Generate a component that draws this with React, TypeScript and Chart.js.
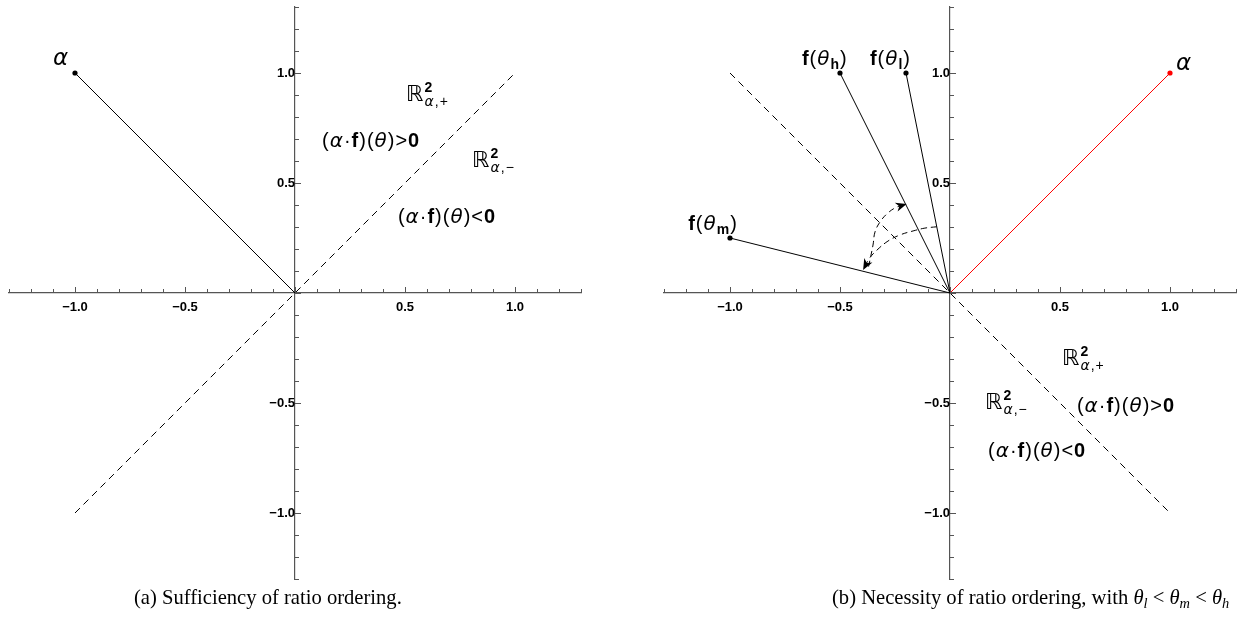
import React, { useEffect, useRef } from 'react';
import { Chart, registerables } from 'chart.js';
Chart.register(...registerables);

// ---------- axis settings ----------
const AXIS_MIN = -1.3;
const AXIS_MAX = 1.3;
const TICK_STEP = 0.1;
const LABEL_STEP = 0.5;

// ---------- panel (a) data ----------
const leftDivider = [{ x: -1, y: -1 }, { x: 1, y: 1 }];
const leftAlpha = [{ x: 0, y: 0 }, { x: -1, y: 1 }];

// ---------- panel (b) data ----------
const rightDivider = [{ x: -1, y: 1 }, { x: 1, y: -1 }];
const rightAlpha = [{ x: 0, y: 0 }, { x: 1, y: 1 }];
const fThetaH = [{ x: 0, y: 0 }, { x: -0.5, y: 1 }];
const fThetaL = [{ x: 0, y: 0 }, { x: -0.2, y: 1 }];
const fThetaM = [{ x: 0, y: 0 }, { x: -1, y: 0.25 }];
const arcLtoM = [
  { x: -0.06, y: 0.301 },
  { x: -0.114, y: 0.295 },
  { x: -0.168, y: 0.282 },
  { x: -0.227, y: 0.264 },
  { x: -0.282, y: 0.236 },
  { x: -0.332, y: 0.195 },
  { x: -0.368, y: 0.155 },
  { x: -0.395, y: 0.105 },
];
const arcMtoH = [
  { x: -0.37, y: 0.12 },
  { x: -0.35, y: 0.218 },
  { x: -0.341, y: 0.277 },
  { x: -0.318, y: 0.323 },
  { x: -0.282, y: 0.364 },
  { x: -0.241, y: 0.391 },
  { x: -0.197, y: 0.405 },
];

// ---------- text annotations ----------
type Seg = { t: string; f: string; dy?: number; back?: boolean };
type Note = { x: number; y: number; parts: Seg[] };

const FONTS: Record<string, string> = {
  r: '20px "Liberation Sans"',
  b: 'bold 20px "Liberation Sans"',
  i: 'italic 20px "DejaVu Sans"',
  R: '22px "DejaVu Sans"',
  s2: 'bold 14px "Liberation Sans"',
  si: 'italic 14px "DejaVu Sans"',
  sr: '14px "Liberation Sans"',
  sb: 'bold 14px "Liberation Sans"',
  A: 'italic 23px "DejaVu Sans"',
};
const GAP = 1.0;

const ineq = (sign: string): Seg[] => [
  { t: '(', f: 'r' }, { t: 'α', f: 'i' }, { t: '·', f: 'r' }, { t: 'f', f: 'b' }, { t: ')', f: 'r' },
  { t: '(', f: 'r' }, { t: 'θ', f: 'i' }, { t: ')', f: 'r' }, { t: sign, f: 'r' }, { t: '0', f: 'b' },
];
const realSpace = (sign: string): Seg[] => [
  { t: 'ℝ', f: 'R' }, { t: '2', f: 's2', dy: -9 },
  { t: 'α', f: 'si', dy: 5, back: true }, { t: ',', f: 'sr', dy: 5 }, { t: sign, f: 'sr', dy: 5 },
];
const fTheta = (sub: string): Seg[] => [
  { t: 'f', f: 'b' }, { t: '(', f: 'r' }, { t: 'θ', f: 'i' }, { t: sub, f: 'sb', dy: 4 }, { t: ')', f: 'r' },
];

const leftNotes: Note[] = [
  { x: -1.1, y: 1.036, parts: [{ t: 'α', f: 'A' }] },
  { x: 0.505, y: 0.873, parts: realSpace('+') },
  { x: 0.123, y: 0.664, parts: ineq('>') },
  { x: 0.805, y: 0.573, parts: realSpace('\u2212') },
  { x: 0.468, y: 0.318, parts: ineq('<') },
];
const rightNotes: Note[] = [
  { x: 1.027, y: 1.014, parts: [{ t: 'α', f: 'A' }] },
  { x: -0.673, y: 1.036, parts: fTheta('h') },
  { x: -0.364, y: 1.036, parts: fTheta('l') },
  { x: -1.19, y: 0.286, parts: fTheta('m') },
  { x: 0.509, y: -0.327, parts: realSpace('+') },
  { x: 0.577, y: -0.54, parts: ineq('>') },
  { x: 0.159, y: -0.527, parts: realSpace('\u2212') },
  { x: 0.173, y: -0.744, parts: ineq('<') },
];

// ---------- styling ----------
const AXIS_COLOR = '#555';
const isMajor = (v: number) => Math.abs(v / LABEL_STEP - Math.round(v / LABEL_STEP)) < 1e-6;
const fmt = (v: number) => {
  const r = Math.round(v * 10) / 10;
  if (Math.abs(r) < 1e-9 || !isMajor(r)) return '';
  return (r < 0 ? '\u2212' : '') + Math.abs(r).toFixed(1);
};

function drawNote(ctx: CanvasRenderingContext2D, px: number, py: number, parts: Seg[]) {
  let x = px;
  let baseX = px;
  ctx.textBaseline = 'alphabetic';
  ctx.textAlign = 'left';
  ctx.fillStyle = '#000';
  for (const p of parts) {
    ctx.font = FONTS[p.f];
    if (p.back) x = baseX;
    ctx.fillText(p.t, x, py + (p.dy || 0));
    const w = ctx.measureText(p.t).width;
    x += w + GAP;
    if (!p.dy) baseX = x;
  }
}

function arrowHead(ctx: CanvasRenderingContext2D, fx: number, fy: number, tx: number, ty: number) {
  const len = 11;
  const half = 4.6;
  const a = Math.atan2(ty - fy, tx - fx);
  const c = Math.cos(a);
  const s = Math.sin(a);
  ctx.beginPath();
  ctx.moveTo(tx, ty);
  ctx.lineTo(tx - len * c + half * s, ty - len * s - half * c);
  ctx.lineTo(tx - len * 0.7 * c, ty - len * 0.7 * s);
  ctx.lineTo(tx - len * c - half * s, ty - len * s + half * c);
  ctx.closePath();
  ctx.fill();
}

const overlayPlugin = {
  id: 'overlay',
  afterDatasetsDraw(chart: any, _args: any, opts: any) {
    const { ctx } = chart;
    const xs = chart.scales.x;
    const ys = chart.scales.y;
    const x0 = xs.getPixelForValue(0);
    const y0 = ys.getPixelForValue(0);
    ctx.save();
    // tick marks (into the plot, Mathematica style)
    ctx.strokeStyle = AXIS_COLOR;
    ctx.lineWidth = 1;
    for (const t of xs.ticks) {
      const px = Math.round(xs.getPixelForValue(t.value)) + 0.5;
      const len = isMajor(t.value) ? 6 : 4;
      ctx.beginPath();
      ctx.moveTo(px, y0);
      ctx.lineTo(px, y0 - len);
      ctx.stroke();
    }
    for (const t of ys.ticks) {
      const py = Math.round(ys.getPixelForValue(t.value)) + 0.5;
      const len = isMajor(t.value) ? 6 : 4;
      ctx.beginPath();
      ctx.moveTo(x0, py);
      ctx.lineTo(x0 + len, py);
      ctx.stroke();
    }
    // arrowheads at the end of the given curves
    ctx.fillStyle = '#000';
    for (const curve of (opts.arrows || []) as { x: number; y: number }[][]) {
      const n = curve.length;
      const p = curve[n - 2];
      const q = curve[n - 1];
      arrowHead(ctx, xs.getPixelForValue(p.x), ys.getPixelForValue(p.y), xs.getPixelForValue(q.x), ys.getPixelForValue(q.y));
    }
    // text notes
    for (const n of (opts.notes || []) as Note[]) {
      drawNote(ctx, xs.getPixelForValue(n.x), ys.getPixelForValue(n.y), n.parts);
    }
    ctx.restore();
  },
};

function axisOptions(axis: 'x' | 'y') {
  return {
    type: 'linear',
    min: AXIS_MIN,
    max: AXIS_MAX,
    position: axis === 'x' ? { y: 0 } : { x: 0 },
    grid: { display: false, drawTicks: false },
    border: { display: true, color: AXIS_COLOR, width: 1.2 },
    ticks: {
      stepSize: TICK_STEP,
      autoSkip: false,
      maxRotation: 0,
      minRotation: 0,
      padding: axis === 'x' ? 7 : 6,
      color: '#000',
      font: { family: '"Liberation Sans"', weight: 'bold', size: 13 },
      callback: (v: any) => fmt(Number(v)),
    },
    afterFit: (s: any) => {
      if (axis === 'x') s.height = 0;
      else s.width = 0;
      s.paddingTop = 0;
      s.paddingBottom = 0;
      s.paddingLeft = 0;
      s.paddingRight = 0;
    },
  };
}

function lineDs(data: any[], color: string, opts: any = {}) {
  return {
    data,
    showLine: true,
    borderColor: color,
    backgroundColor: color,
    borderWidth: 1,
    pointRadius: data.map((_, i) => (i === data.length - 1 ? 2.6 : 0)),
    pointBackgroundColor: color,
    pointBorderWidth: 0,
    tension: 0,
    ...opts,
  };
}

function makeConfig(datasets: any[], notes: Note[], arrows: any[], padding: any): any {
  return {
    type: 'scatter',
    data: { datasets },
    options: {
      animation: false,
      responsive: false,
      events: [],
      layout: { padding },
      scales: { x: axisOptions('x'), y: axisOptions('y') },
      plugins: {
        legend: { display: false },
        tooltip: { enabled: false },
        overlay: { notes, arrows },
      },
    },
    plugins: [overlayPlugin],
  };
}

export default function App() {
  const leftRef = useRef<HTMLCanvasElement>(null);
  const rightRef = useRef<HTMLCanvasElement>(null);

  useEffect(() => {
    const left = new Chart(
      leftRef.current!,
      makeConfig(
        [
          lineDs(leftDivider, '#000', { borderDash: [7, 5], pointRadius: 0 }),
          lineDs(leftAlpha, '#000'),
        ],
        leftNotes,
        [],
        { left: 9, right: 39, top: 7, bottom: 11 }
      )
    );
    const right = new Chart(
      rightRef.current!,
      makeConfig(
        [
          lineDs(rightDivider, '#000', { borderDash: [7, 5], pointRadius: 0 }),
          lineDs(arcLtoM, '#000', { borderDash: [6, 4], pointRadius: 0, tension: 0.4 }),
          lineDs(arcMtoH, '#000', { borderDash: [6, 4], pointRadius: 0, tension: 0.4 }),
          lineDs(fThetaH, '#000'),
          lineDs(fThetaL, '#000'),
          lineDs(fThetaM, '#000'),
          lineDs(rightAlpha, '#ff0000'),
        ],
        rightNotes,
        [arcLtoM, arcMtoH],
        { left: 44, right: 5, top: 7, bottom: 11 }
      )
    );
    return () => {
      left.destroy();
      right.destroy();
    };
  }, []);

  const cap: React.CSSProperties = {
    position: 'absolute',
    top: 584,
    font: '20.6px "Liberation Serif"',
    lineHeight: '26px',
    whiteSpace: 'nowrap',
    color: '#000',
  };
  const sub: React.CSSProperties = { fontSize: '0.7em', verticalAlign: '-0.25em', lineHeight: 0 };

  return (
    <div style={{ position: 'absolute', left: 0, top: 0, width: 1241, height: 639, background: '#fff', overflow: 'hidden' }}>
      <canvas ref={leftRef} width={620} height={590} style={{ position: 'absolute', left: 0, top: 0, width: 620, height: 590 }} />
      <canvas ref={rightRef} width={621} height={590} style={{ position: 'absolute', left: 620, top: 0, width: 621, height: 590 }} />
      <div style={{ ...cap, left: 134 }}>(a) Sufficiency of ratio ordering.</div>
      <div style={{ ...cap, left: 832 }}>
        (b) Necessity of ratio ordering, with <i>θ</i>
        <sub style={sub}><i>l</i></sub> &lt; <i>θ</i>
        <sub style={sub}><i>m</i></sub> &lt; <i>θ</i>
        <sub style={sub}><i>h</i></sub>
      </div>
    </div>
  );
}
